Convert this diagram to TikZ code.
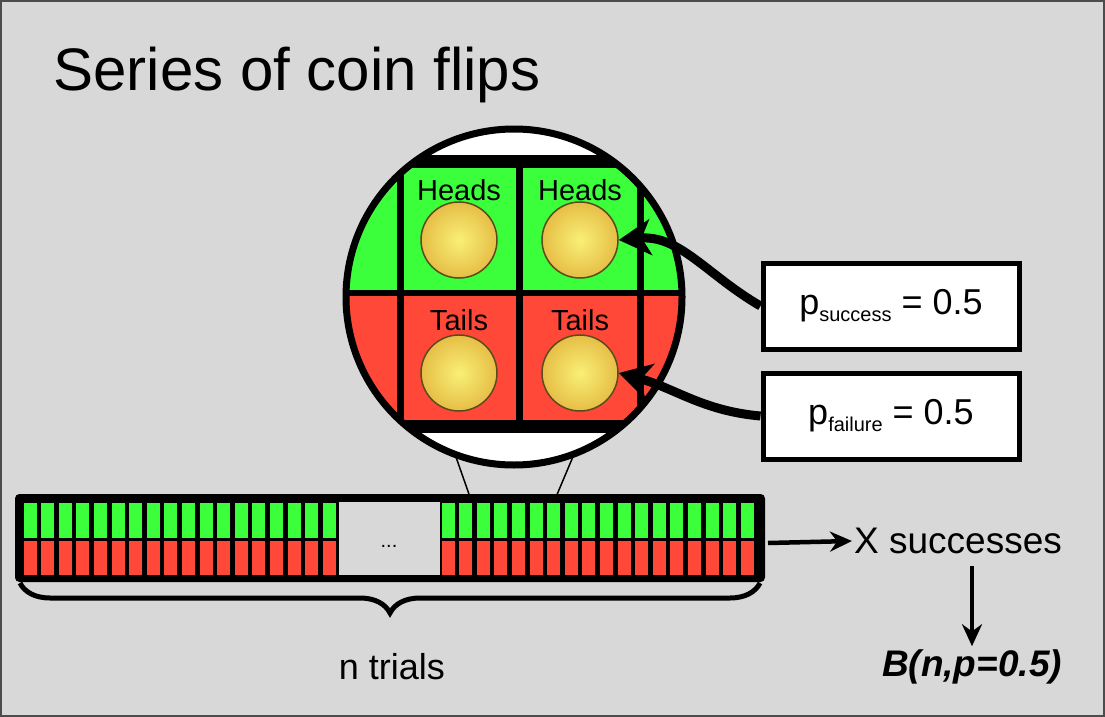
\documentclass[tikz,border=0pt]{standalone}
\usepackage{fontspec}
\setmainfont{Liberation Sans}
\usetikzlibrary{decorations.pathreplacing,arrows.meta}
\definecolor{okgreen}{RGB}{60,255,60}
\definecolor{badred}{RGB}{255,72,56}
\definecolor{panel}{RGB}{216,216,216}
\definecolor{gold}{RGB}{230,190,70}
\newcommand{\sub}[1]{\raisebox{-0.35ex}{\fontsize{20}{22}\selectfont #1}}
\tikzset{cell/.style={draw=none},
  frame/.style={draw=black, line width=5pt, fill=white},
  bend arrow/.style={line width=9pt, -{Stealth[length=32pt,width=36pt,inset=9pt]}},
  flow/.style={line width=4.5pt, -{Stealth[length=22pt,width=20pt]}},
  coin/.style={circle, draw=black!60!gold, line width=1.5pt, inner color=gold!40!yellow!60, outer color=gold, minimum size=76pt}}

\begin{document}
\begin{tikzpicture}[x=1pt,y=-1pt]
    \useasboundingbox (0,0) rectangle (1105,717);
    \draw[fill=panel, draw=black!70, line width=2.5pt] (1,1) rectangle (1104,716);
    \node (title) [anchor=west, font=\fontsize{60}{66}\selectfont] at (50,75) {Series of coin flips};

    % long row of trials
    \draw[line width=6pt, rounded corners=2pt, fill=black] (18,497) rectangle (762,579);
    \foreach \i in {0,...,17} {
        \fill[okgreen] (23.5+17.6*\i,502.5) rectangle (22+17.6*\i+14.6,537.5);
        \fill[badred] (23.5+17.6*\i,540.5) rectangle (22+17.6*\i+14.6,574.5);
        \fill[okgreen] (441.5+17.6*\i,502.5) rectangle (440+17.6*\i+14.6,537.5);
        \fill[badred] (441.5+17.6*\i,540.5) rectangle (440+17.6*\i+14.6,574.5);
    }
    \fill[panel] (339,502) rectangle (440,575);
    \node (dots) [font=\fontsize{20}{22}\selectfont] at (389,546) {...};

    % zoom lines
    \coordinate (zl) at (470,497);
    \coordinate (zr) at (556,497);
    \draw[line width=1.5pt] (zl) -- (450,440);
    \draw[line width=1.5pt] (zr) -- (580,440);

    % magnified view
    \begin{scope}
        \clip (514,297) circle (168);
        \fill[white] (300,100) rectangle (720,480);
        \fill[black] (300,155) rectangle (720,168);
        \fill[black] (300,420) rectangle (720,433);
        \fill[okgreen] (300,168) rectangle (720,293);
        \fill[badred] (300,293) rectangle (720,420);
        \draw[line width=6pt] (300,293) -- (720,293);
        \foreach \x in {400,519,640} \draw[line width=7pt] (\x,165) -- (\x,425);
    \end{scope}
    \draw[line width=7pt] (514,297) circle (168);

    \node (h1) [font=\fontsize{29}{32}\selectfont] at (459,190) {Heads};
    \node (h2) [font=\fontsize{29}{32}\selectfont] at (580,190) {Heads};
    \node (t1) [font=\fontsize{29}{32}\selectfont] at (459,320) {Tails};
    \node (t2) [font=\fontsize{29}{32}\selectfont] at (580,320) {Tails};
    \node (c1) [coin] at (459,240) {};
    \node (c2) [coin] at (580,240) {};
    \node (c3) [coin] at (459,373) {};
    \node (c4) [coin] at (580,373) {};

    % probability boxes
    \node (ps) [frame, minimum width=256pt, minimum height=86pt, font=\fontsize{36}{40}\selectfont] at (891,306) {p\sub{success} = 0.5};
    \node (pf) [frame, minimum width=256pt, minimum height=86pt, font=\fontsize{36}{40}\selectfont] at (891,416) {p\sub{failure} = 0.5};
    \draw[bend arrow] (ps.west) to[out=150, in=5] (c2.east);
    \draw[bend arrow] (pf.west) to[out=175, in=-15] (c4.east);

    % result
    \node (xs) [anchor=west, inner sep=2pt, font=\fontsize{37}{42}\selectfont] at (852,541) {X successes};
    \node (bin) [font=\fontsize{37}{42}\selectfont\bfseries\itshape] at (972,667) {B(n,p=0.5)};
    \draw[flow] (768,543) -- (xs.west);
    \draw[flow] (972,566) -- (bin.north);

    \draw[line width=5pt, decorate, decoration={brace, mirror, amplitude=30pt}] (20,583) -- (760,583);
    \node (trials) [font=\fontsize{36}{40}\selectfont] at (392,667) {n trials};
\end{tikzpicture}
\end{document}
